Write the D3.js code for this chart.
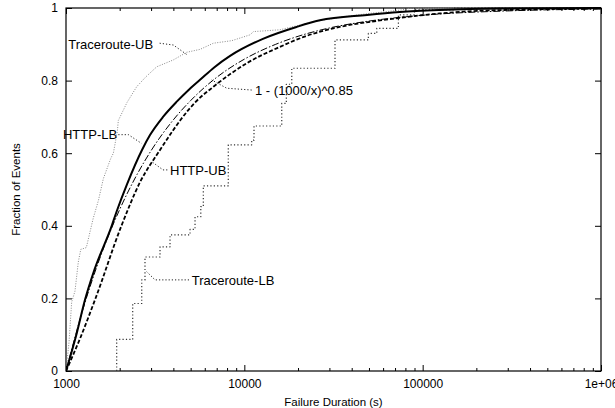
<!DOCTYPE html>
<head>
	<meta charset="utf-8">
	<script type="text/javascript" src="https://cdn.jsdelivr.net/npm/d3@7"></script>
	<style>
		body { margin: 0; background: #fff; }
		text { font-family: "Liberation Sans", Arial, sans-serif; }
	</style>
</head>
<body>
	<script type="text/javascript">

	// tick values and labels
	var xTickValues = [1000, 10000, 100000, 1000000];
	var xTickLabels = ["1000", "10000", "100000", "1e+06"];
	var yTickValues = [0, 0.2, 0.4, 0.6, 0.8, 1];
	var yTickLabels = ["0", "0.2", "0.4", "0.6", "0.8", "1"];

	// series: [duration (s), fraction]
	var httpLB = [
		[1000, 0], [1150, 0.105], [1278, 0.196], [1423, 0.27], [1811, 0.402], [1925, 0.44],
		[2200, 0.515], [2668, 0.609], [2958, 0.65], [3500, 0.7], [4178, 0.742], [4837, 0.773],
		[5644, 0.802], [6800, 0.837], [8320, 0.868], [12710, 0.915], [19690, 0.948], [26520, 0.966],
		[48700, 0.981], [74500, 0.989], [125000, 0.9945], [270000, 0.9986], [1000000, 1]
	];
	var httpUB = [
		[1000, 0], [1200, 0.09], [1454, 0.196], [2053, 0.402], [2600, 0.52], [3367, 0.609], [3998, 0.664],
		[4362, 0.69], [5300, 0.74], [6707, 0.783], [10330, 0.848], [15840, 0.893], [22000, 0.922],
		[31530, 0.944], [60260, 0.967], [125000, 0.985], [169000, 0.99], [400000, 0.996], [1000000, 0.999]
	];
	var model = [
		[1000, 0], [1250, 0.173], [1500, 0.292], [2000, 0.445], [2500, 0.541], [3000, 0.607],
		[4000, 0.692], [5000, 0.745], [7000, 0.809], [10000, 0.859], [15000, 0.9], [20000, 0.922],
		[30000, 0.945], [50000, 0.964], [100000, 0.98], [300000, 0.992], [1000000, 0.997]
	];
	var traceUB = [
		[1000, 0], [1040, 0.08], [1076, 0.19], [1123, 0.22], [1172, 0.3], [1210, 0.335], [1300, 0.34],
		[1420, 0.42], [1520, 0.47], [1620, 0.53], [1780, 0.585], [1843, 0.6], [1940, 0.66], [1965, 0.69],
		[2200, 0.74], [2490, 0.783], [2800, 0.81], [3226, 0.838], [4000, 0.857], [4750, 0.878],
		[5644, 0.886], [6707, 0.903], [8500, 0.91], [10760, 0.926], [11250, 0.935], [15840, 0.94],
		[24420, 0.962], [35000, 0.975], [50000, 0.985], [74500, 0.994], [85000, 0.999], [150000, 1],
		[1000000, 1]
	];
	var traceLB = [
		[1924, 0], [1924, 0.087], [2366, 0.186], [2659, 0.251], [2773, 0.314], [3367, 0.342],
		[3831, 0.375], [4962, 0.39], [5291, 0.425], [5700, 0.453], [5888, 0.51], [8128, 0.623],
		[11000, 0.636], [11330, 0.675], [16210, 0.737], [17200, 0.79], [18450, 0.834], [32240, 0.912],
		[49600, 0.93], [55300, 0.944], [73100, 0.981], [90000, 0.995], [150000, 1], [1000000, 1]
	];

	// annotations: label, text anchor point, leader points
	var notes = [
		{text: "Traceroute-UB", at: [1030, 0.9], leader: [[3350, 0.903], [4000, 0.898], [4750, 0.872]]},
		{text: "HTTP-LB", at: [962, 0.651], leader: [[1965, 0.651], [2240, 0.651], [2650, 0.627]]},
		{text: "HTTP-UB", at: [3830, 0.554], leader: [[3700, 0.554], [3500, 0.554], [3020, 0.577]]},
		{text: "1 - (1000/x)^0.85", at: [11480, 0.774], leader: [[11000, 0.774], [7966, 0.779], [6563, 0.8017]]},
		{text: "Traceroute-LB", at: [5070, 0.251], leader: [[4895, 0.251], [3157, 0.251], [2835, 0.2736]]}
	];

	var w = 615;
	var h = 408;
	var m = {top: 8, right: 14, bottom: 37, left: 66};

	var svg = d3.select("body")
	.append("svg")
	.attr("width", w)
	.attr("height", h);

	var xscale = d3.scaleLog()
	.domain([1000, 1000000])
	.range([m.left, w - m.right]);

	var yscale = d3.scaleLinear()
	.domain([0, 1])
	.range([h - m.bottom, m.top]);

	var minorX = [];
	[1000, 10000, 100000].forEach(function(d){
		for (var k = 2; k < 10; k++) minorX.push(d * k);
	});

	// axes with inward ticks on all four sides
	function xAxis(g, gen, y, vals, size, labels){
		g.attr("transform", "translate(0," + y + ")")
		.call(gen(xscale).tickValues(vals).tickSize(size).tickPadding(8)
			.tickFormat(function(d, i){ return labels ? labels[i] : ""; }));
	}
	svg.append("g").call(xAxis, d3.axisBottom, yscale(0), xTickValues, -6, xTickLabels);
	svg.append("g").call(xAxis, d3.axisBottom, yscale(0), minorX, -3, null);
	svg.append("g").call(xAxis, d3.axisTop, yscale(1), xTickValues, -6, null);
	svg.append("g").call(xAxis, d3.axisTop, yscale(1), minorX, -3, null);

	svg.append("g")
	.attr("transform", "translate(" + xscale(1000) + ",0)")
	.call(d3.axisLeft(yscale).tickValues(yTickValues).tickSize(-6).tickPadding(8)
		.tickFormat(function(d, i){ return yTickLabels[i]; }));
	svg.append("g")
	.attr("transform", "translate(" + xscale(1000000) + ",0)")
	.call(d3.axisRight(yscale).tickValues(yTickValues).tickSize(-6).tickFormat(""));

	svg.selectAll(".domain").remove();
	svg.selectAll(".tick line").attr("stroke", "#000");
	svg.selectAll(".tick text").attr("font-size", "12px").attr("fill", "#000")
	.attr("font-family", "'Liberation Sans', Arial, sans-serif");

	svg.append("rect")
	.attr("x", xscale(1000))
	.attr("y", yscale(1))
	.attr("width", xscale(1000000) - xscale(1000))
	.attr("height", yscale(0) - yscale(1))
	.attr("fill", "none")
	.attr("stroke", "#000")
	.attr("stroke-width", 1.2);

	svg.append("clipPath").attr("id", "plot")
	.append("rect")
	.attr("x", xscale(1000))
	.attr("y", yscale(1) - 1)
	.attr("width", xscale(1000000) - xscale(1000))
	.attr("height", yscale(0) - yscale(1) + 1);

	var line = d3.line()
	.x(function(d){ return xscale(d[0]); })
	.y(function(d){ return yscale(d[1]); });

	var series = [
		{data: traceUB, color: "#8a8a8a", width: 1, dash: "1,1.5", curve: d3.curveLinear},
		{data: traceLB, color: "#333", width: 1.2, dash: "1.2,2.2", curve: d3.curveStepAfter},
		{data: model, color: "#000", width: 1, dash: "7,2,1.5,2", curve: d3.curveMonotoneX},
		{data: httpUB, color: "#000", width: 1.8, dash: "4,2", curve: d3.curveMonotoneX},
		{data: httpLB, color: "#000", width: 2, dash: null, curve: d3.curveMonotoneX}
	];

	svg.append("g").attr("clip-path", "url(#plot)")
	.selectAll("path")
	.data(series)
	.enter()
	.append("path")
	.attr("d", function(d){ return line.curve(d.curve)(d.data); })
	.attr("fill", "none")
	.attr("stroke", function(d){ return d.color; })
	.attr("stroke-width", function(d){ return d.width; })
	.attr("stroke-dasharray", function(d){ return d.dash; })
	.attr("stroke-linejoin", "round");

	// labels and dotted leaders
	var leader = d3.line()
	.x(function(d){ return xscale(d[0]); })
	.y(function(d){ return yscale(d[1]); });

	svg.selectAll(".leader")
	.data(notes)
	.enter()
	.append("path")
	.attr("class", "leader")
	.attr("d", function(d){ return leader(d.leader); })
	.attr("fill", "none")
	.attr("stroke", "#222")
	.attr("stroke-width", 1)
	.attr("stroke-dasharray", "1.2,2");

	svg.selectAll(".note")
	.data(notes)
	.enter()
	.append("text")
	.attr("class", "note")
	.text(function(d){ return d.text; })
	.attr("x", function(d){ return xscale(d.at[0]); })
	.attr("y", function(d){ return yscale(d.at[1]); })
	.attr("dy", "0.36em")
	.attr("font-size", "13px")
	.attr("fill", "#000");

	// axis titles
	svg.append("text")
	.text("Failure Duration (s)")
	.attr("x", (xscale(1000) + xscale(1000000)) / 2)
	.attr("y", 406)
	.attr("text-anchor", "middle")
	.attr("font-size", "11.5px");

	svg.append("text")
	.text("Fraction of Events")
	.attr("transform", "translate(20," + (yscale(0) + yscale(1)) / 2 + ") rotate(-90)")
	.attr("text-anchor", "middle")
	.attr("font-size", "11.5px");

	</script>
</body>
</html>
